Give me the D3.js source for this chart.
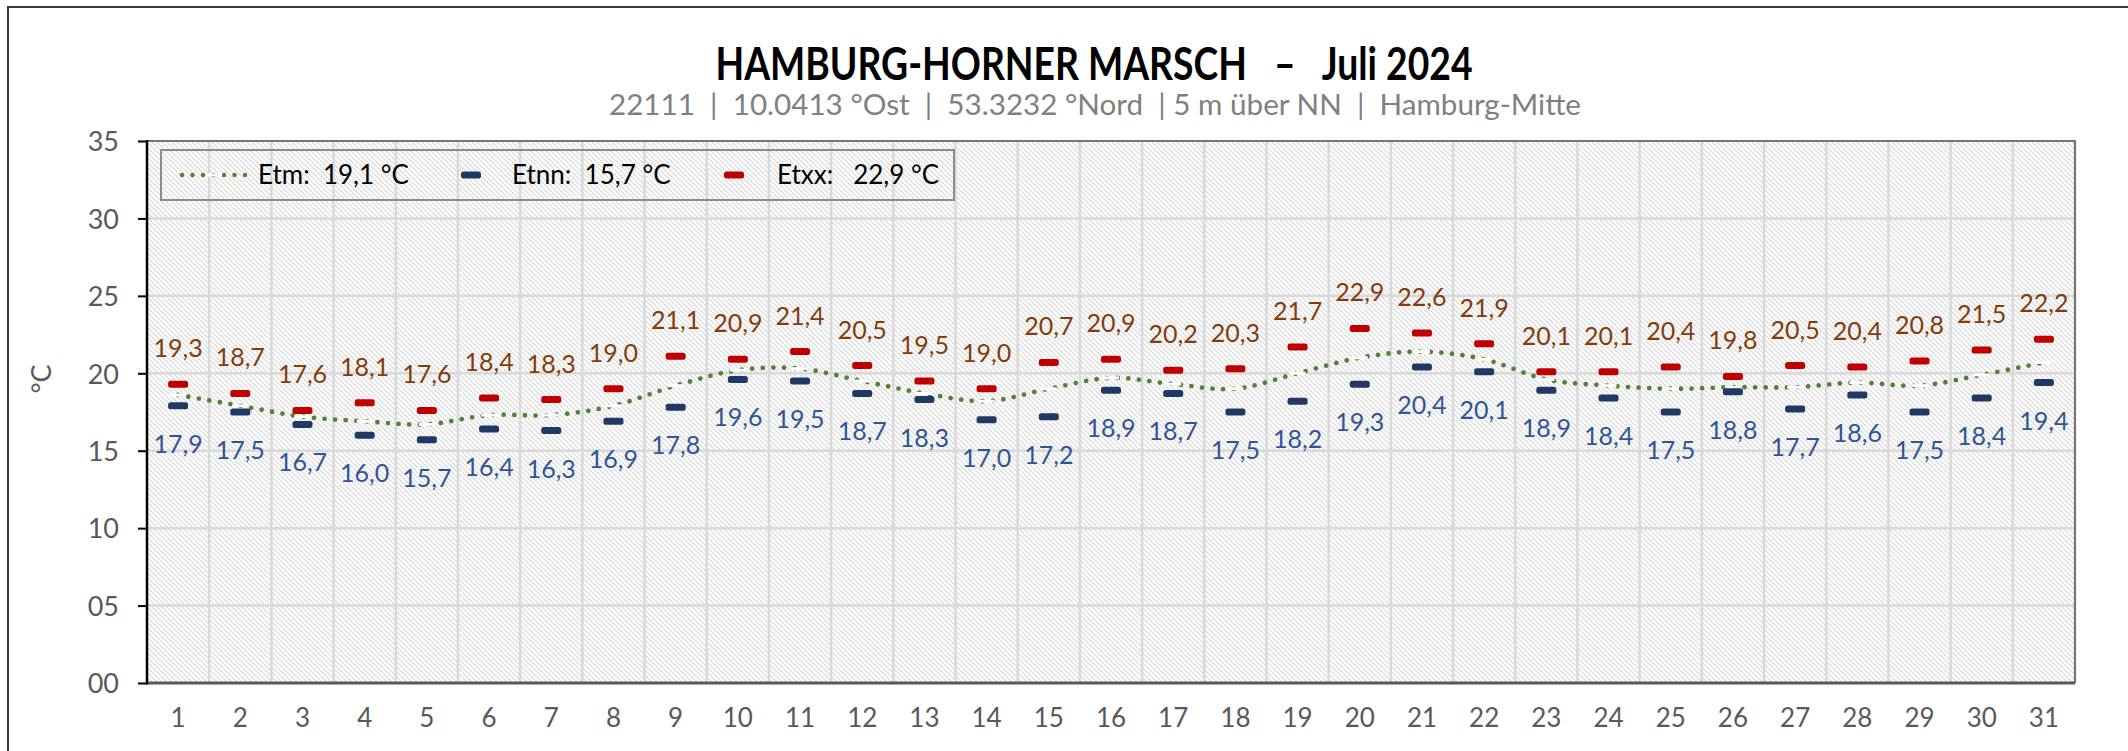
<!DOCTYPE html>
<html><head><meta charset="utf-8">
<script src="https://cdn.jsdelivr.net/npm/d3@7"></script>
<style>
html,body{margin:0;padding:0;background:#fff;}
svg{display:block;font-family:Lato,"Open Sans",sans-serif;}
text{white-space:pre;}
</style></head><body>
<svg id="chart" width="2128" height="751"></svg>
<script>
// ---------- data ----------
const days = ["1","2","3","4","5","6","7","8","9","10","11","12","13","14","15","16","17","18","19","20","21","22","23","24","25","26","27","28","29","30","31"];
const etm  = [18.6,17.9,17.2,16.9,16.7,17.3,17.3,17.9,19.2,20.2,20.3,19.5,18.7,18.2,19.0,19.7,19.3,19.0,20.0,21.0,21.4,20.9,19.6,19.2,19.0,19.1,19.1,19.4,19.2,19.9,20.7];
const etnn = [17.9,17.5,16.7,16.0,15.7,16.4,16.3,16.9,17.8,19.6,19.5,18.7,18.3,17.0,17.2,18.9,18.7,17.5,18.2,19.3,20.4,20.1,18.9,18.4,17.5,18.8,17.7,18.6,17.5,18.4,19.4];
const etxx = [19.3,18.7,17.6,18.1,17.6,18.4,18.3,19.0,21.1,20.9,21.4,20.5,19.5,19.0,20.7,20.9,20.2,20.3,21.7,22.9,22.6,21.9,20.1,20.1,20.4,19.8,20.5,20.4,20.8,21.5,22.2];
const yTicks = [0,5,10,15,20,25,30,35];
const yTickLabels = ["00","05","10","15","20","25","30","35"];
const titleText = "HAMBURG-HORNER MARSCH   –   Juli 2024";
const subtitleText = "22111  |  10.0413 °Ost  |  53.3232 °Nord  | 5 m über NN  |  Hamburg-Mitte";
const yAxisTitle = "°C";
const legendLabels = ["Etm:  19,1 °C", "Etnn:  15,7 °C", "Etxx:   22,9 °C"];

// ---------- layout ----------
const M = {left:147, right:2075, top:141, bottom:683};
const C = {etm:"#548235", min:"#1F3864", max:"#C00000", minLbl:"#2F5597", maxLbl:"#843C0C", tick:"#595959"};
const fmt = v => v.toFixed(1).replace(".", ",");

const svg = d3.select("#chart");
const x = d3.scaleBand().domain(days).range([M.left, M.right]).padding(0);
const y = d3.scaleLinear().domain([0,35]).range([M.bottom, M.top]);
const cx = d => x(d) + x.bandwidth()/2;

// hatch pattern
const defs = svg.append("defs");
const pat = defs.append("pattern").attr("id","hatch").attr("patternUnits","userSpaceOnUse").attr("width",5).attr("height",5);
pat.append("rect").attr("width",5).attr("height",5).attr("fill","#fff");
pat.append("path").attr("d","M-1,-1L6,6M-1,4L1,6M4,-1L6,1").attr("stroke","#d8d8d8").attr("stroke-width",1.2);

// outer chart frame
svg.append("path").attr("d","M8,751L8,7L2128,7").attr("fill","none").attr("stroke","#3a3a3a").attr("stroke-width",2);

// plot background
svg.append("rect").attr("x",M.left).attr("y",M.top).attr("width",M.right-M.left).attr("height",M.bottom-M.top).attr("fill","url(#hatch)");

// gridlines
svg.append("g").selectAll("line").data(yTicks.filter(v => v>0 && v<35)).join("line")
  .attr("x1",M.left).attr("x2",M.right).attr("y1",d=>y(d)).attr("y2",d=>y(d))
  .attr("stroke","#d9d9d9").attr("stroke-width",2.5);
svg.append("g").selectAll("line").data(days.slice(1)).join("line")
  .attr("x1",d=>x(d)).attr("x2",d=>x(d)).attr("y1",M.top).attr("y2",M.bottom)
  .attr("stroke","#d9d9d9").attr("stroke-width",2.5);

// plot borders
svg.append("path").attr("d",`M${M.left},${M.top}L${M.right},${M.top}L${M.right},${M.bottom}`)
  .attr("fill","none").attr("stroke","#767676").attr("stroke-width",2.2);

// y axis
const gy = svg.append("g").attr("transform",`translate(${M.left},0)`)
  .call(d3.axisLeft(y).tickValues(yTicks).tickFormat((d,i)=>yTickLabels[i]).tickSize(9).tickPadding(19));
gy.attr("font-family",null).attr("font-size",null);
gy.select(".domain").remove();
gy.selectAll(".tick line").attr("stroke","#000").attr("stroke-width",2);
gy.selectAll(".tick text").attr("fill",C.tick).attr("font-size",27).attr("dy","0.36em");

// x axis
const gx = svg.append("g").attr("transform",`translate(0,${M.bottom})`)
  .call(d3.axisBottom(x).tickSize(0).tickPadding(26));
gx.attr("font-family",null).attr("font-size",null);
gx.select(".domain").remove();
gx.selectAll(".tick text").attr("fill",C.tick).attr("font-size",26);

// axis lines
svg.append("line").attr("x1",M.left).attr("x2",M.right).attr("y1",M.bottom).attr("y2",M.bottom)
  .attr("stroke","#595959").attr("stroke-width",3);
svg.append("line").attr("x1",M.left).attr("x2",M.left).attr("y1",M.top-1).attr("y2",M.bottom+1.5)
  .attr("stroke","#000").attr("stroke-width",2.5);

// y axis title
svg.append("text").attr("transform","translate(51,379) rotate(-90)").attr("text-anchor","middle")
  .attr("fill",C.tick).attr("font-size",27).text(yAxisTitle);

// titles
svg.append("text").attr("x",1094).attr("y",80).attr("text-anchor","middle")
  .attr("font-size",46).attr("font-weight",700).attr("fill","#000")
  .attr("textLength",757).attr("lengthAdjust","spacingAndGlyphs").text(titleText);
svg.append("text").attr("x",1095).attr("y",115).attr("text-anchor","middle")
  .attr("font-size",29).attr("fill","#808080")
  .attr("textLength",972).attr("lengthAdjust","spacingAndGlyphs").text(subtitleText);

// legend
const lg = svg.append("g");
lg.append("rect").attr("x",161).attr("y",150).attr("width",793).attr("height",50)
  .attr("fill","none").attr("stroke","#8c8c8c").attr("stroke-width",2);
lg.append("line").attr("x1",182).attr("x2",252).attr("y1",175).attr("y2",175)
  .attr("stroke",C.etm).attr("stroke-width",4.5).attr("stroke-linecap","round").attr("stroke-dasharray","0 10.5");
lg.append("rect").attr("x",206).attr("y",173.5).attr("width",16).attr("height",3).attr("fill","#fff");
lg.append("rect").attr("x",461).attr("y",171.5).attr("width",20).attr("height",7).attr("rx",2.5).attr("fill",C.min);
lg.append("rect").attr("x",724).attr("y",171.5).attr("width",20).attr("height",7).attr("rx",2.5).attr("fill",C.max);
[[258,0],[512,1],[777,2]].forEach(([px,i]) =>
  lg.append("text").attr("x",px).attr("y",184).attr("font-size",26).attr("fill","#000").text(legendLabels[i]));

// Etm smooth dotted line
const pts = days.map((d,i)=>({d, v:etm[i]}));
const line = d3.line().x(p=>cx(p.d)).y(p=>y(p.v)).curve(d3.curveCardinal.tension(0));
svg.append("path").attr("d",line(pts)).attr("fill","none").attr("stroke",C.etm)
  .attr("stroke-width",4.8).attr("stroke-linecap","round").attr("stroke-dasharray","0 10.6");
svg.append("g").selectAll("rect").data(pts).join("rect")
  .attr("x",p=>cx(p.d)-8).attr("y",p=>y(p.v)-1.5).attr("width",16).attr("height",3).attr("fill","#fff");

// min / max markers
const mk = (arr,color) => svg.append("g").selectAll("rect").data(days).join("rect")
  .attr("x",d=>cx(d)-10).attr("y",(d,i)=>y(arr[i])-3.5).attr("width",20).attr("height",7).attr("rx",2.5).attr("fill",color);
mk(etnn, C.min);
mk(etxx, C.max);

// labels
svg.append("g").selectAll("text").data(days).join("text")
  .attr("x",cx).attr("y",(d,i)=>y(etxx[i])-27).attr("text-anchor","middle")
  .attr("font-size",25).attr("fill",C.maxLbl).text((d,i)=>fmt(etxx[i]));
svg.append("g").selectAll("text").data(days).join("text")
  .attr("x",cx).attr("y",(d,i)=>y(etnn[i])+47).attr("text-anchor","middle")
  .attr("font-size",25).attr("fill",C.minLbl).text((d,i)=>fmt(etnn[i]));
</script>
</body></html>
